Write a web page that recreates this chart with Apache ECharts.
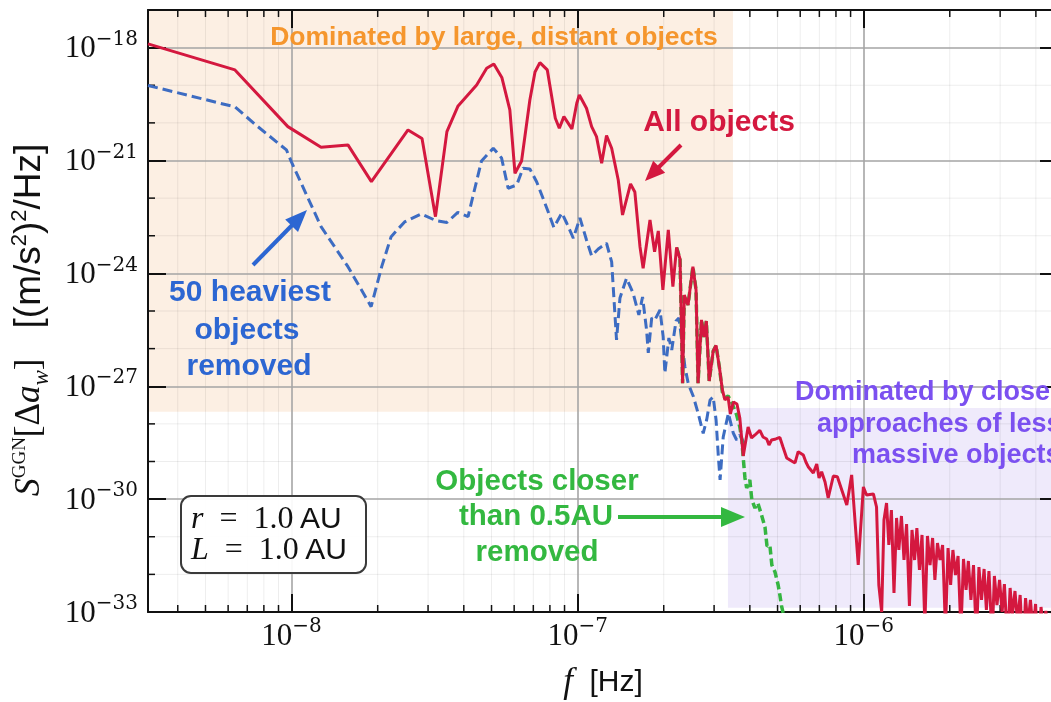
<!DOCTYPE html>
<html><head><meta charset="utf-8">
<script src="https://cdn.jsdelivr.net/npm/echarts@6/dist/echarts.min.js"></script>
<style>html,body{margin:0;padding:0;background:#fff}#c{width:1051px;height:702px}#err{position:absolute;left:400px;top:640px;font:11px monospace;color:#000;white-space:pre-wrap;width:640px;z-index:10}</style>
</head><body><div id="c"></div><div id="err"></div>
<script>
window.onerror = function (m, s, l, c) { document.getElementById('err').textContent += 'ERR ' + m + ' @' + l + ':' + c + '\n'; };
// ---- axis ranges (log10 exponents) ----
const X_MIN_EXP = -8.502, X_MAX_EXP = -5.3206;
const Y_MIN_EXP = -33, Y_MAX_EXP = -17;
// the y axis is drawn in units of 10^Y_UNIT_EXP (ECharts rounds values below 1e-20 to 0)
const Y_UNIT_EXP = -33;

// ---- "All objects" (log10 f [Hz], log10 S) ----
const redLogF = [-8.502,-8.198,-8.013,-7.897,-7.803,-7.721,-7.593,-7.544,-7.497,-7.457,-7.418,-7.353,-7.318,-7.293,-7.265,-7.237,-7.219,-7.196,-7.167,-7.149,-7.132,-7.106,-7.078,-7.064,-7.048,-7.020,-7.003,-6.994,-6.969,-6.951,-6.934,-6.916,-6.899,-6.881,-6.858,-6.843,-6.815,-6.800,-6.782,-6.771,-6.747,-6.731,-6.718,-6.702,-6.683,-6.667,-6.654,-6.642,-6.633,-6.627,-6.614,-6.597,-6.586,-6.579,-6.567,-6.558,-6.550,-6.540,-6.526,-6.516,-6.504,-6.494,-6.485,-6.474,-6.466,-6.455,-6.443,-6.433,-6.421,-6.404,-6.392,-6.380,-6.363,-6.352,-6.339,-6.331,-6.322,-6.307,-6.293,-6.282,-6.269,-6.252,-6.240,-6.229,-6.211,-6.202,-6.194,-6.176,-6.164,-6.156,-6.147,-6.135,-6.124,-6.106,-6.092,-6.073,-6.059,-6.042,-6.019,-6.001,-5.990,-5.966,-5.955,
-5.947,-5.937,-5.929,-5.920,-5.912,-5.903,-5.894,-5.885,-5.877,-5.868,-5.859,-5.850,-5.840,-5.831,-5.822,-5.814,-5.805,-5.796,-5.786,-5.777,-5.768,-5.759,-5.751,-5.742,-5.733,-5.724,-5.714,-5.705,-5.696,-5.688,-5.679,-5.670,-5.660,-5.651,-5.642,-5.634,-5.625,-5.616,-5.606,-5.597,-5.588,-5.579,-5.571,-5.562,-5.551,-5.543,-5.534,-5.525,-5.516,-5.508,-5.497,-5.488,-5.480,-5.471,-5.462,-5.453,-5.443,-5.434,-5.426,-5.417,-5.408,-5.399,-5.389,-5.380,-5.371,-5.363,-5.354,-5.345,-5.335,-5.326];
const redLogS = [-17.902,-18.593,-20.100,-20.648,-20.586,-21.562,-20.188,-20.414,-22.492,-20.233,-19.550,-18.991,-18.548,-18.433,-18.792,-19.656,-21.339,-21.012,-19.390,-18.646,-18.399,-18.593,-19.877,-20.143,-19.834,-20.161,-19.478,-19.257,-19.611,-20.100,-20.366,-21.073,-20.334,-20.674,-21.517,-22.447,-21.623,-21.836,-23.290,-23.864,-22.580,-23.423,-22.872,-24.441,-22.846,-24.353,-23.311,-23.617,-26.921,-24.574,-24.839,-23.821,-24.441,-26.921,-25.238,-25.690,-25.265,-26.860,-26.062,-25.916,-26.514,-27.099,-27.365,-27.285,-27.737,-27.418,-27.471,-27.843,-28.853,-28.082,-28.375,-28.295,-28.175,-28.348,-28.401,-28.561,-28.428,-28.401,-28.361,-28.614,-28.906,-28.986,-29.039,-28.739,-28.827,-29.013,-29.138,-29.305,-29.066,-29.438,-29.271,-29.544,-29.970,-29.385,-29.403,-29.837,-30.156,-29.358,-31.751,-29.677,-29.890,-29.863,-30.209,
-32.282,-33.000,-30.554,-30.103,-31.219,-30.289,-32.495,-30.501,-31.352,-30.448,-31.618,-30.661,-32.841,-30.820,-31.618,-30.767,-31.884,-30.953,-33.346,-30.980,-31.751,-31.033,-32.149,-31.166,-31.618,-31.219,-33.478,-31.299,-32.282,-31.352,-32.016,-31.511,-33.532,-31.591,-32.415,-31.644,-32.681,-31.751,-33.744,-31.804,-32.681,-31.857,-32.947,-31.910,-33.744,-32.043,-32.814,-32.149,-33.000,-32.256,-33.877,-32.362,-33.080,-32.442,-33.266,-32.548,-34.010,-32.628,-33.346,-32.681,-33.478,-32.787,-34.276,-32.867,-33.478,-32.973,-33.744,-33.053,-34.276,-33.133];

// ---- "50 heaviest objects removed" ----
const blueLogF = [-8.502,-8.198,-8.118,-8.018,-8.001,-7.897,-7.803,-7.722,-7.685,-7.652,-7.605,-7.547,-7.495,-7.457,-7.419,-7.383,-7.365,-7.336,-7.295,-7.266,-7.243,-7.213,-7.191,-7.167,-7.143,-7.108,-7.083,-7.055,-7.038,-7.015,-6.992,-6.969,-6.951,-6.928,-6.899,-6.881,-6.864,-6.852,-6.829,-6.806,-6.786,-6.773,-6.759,-6.753,-6.741,-6.730,-6.712,-6.701,-6.695,-6.681,-6.671,-6.656,-6.646,-6.636,-6.625,-6.613,-6.596,-6.579,-6.561,-6.549,-6.537,-6.526,-6.516,-6.508,-6.502,-6.491,-6.473,-6.456,-6.444,-6.433,-6.415];
const blueLogS = [-19.005,-19.576,-20.100,-20.719,-21.030,-22.758,-23.821,-24.885,-23.821,-23.024,-22.633,-22.420,-22.599,-22.646,-22.381,-22.492,-21.916,-21.012,-20.674,-20.932,-21.737,-21.650,-21.206,-21.224,-21.570,-22.261,-22.779,-22.394,-22.668,-23.066,-22.527,-23.112,-23.537,-23.351,-23.199,-23.696,-25.770,-24.653,-24.130,-24.528,-25.105,-24.627,-25.504,-26.115,-25.185,-25.238,-24.972,-25.682,-26.655,-25.717,-26.036,-25.265,-25.185,-25.770,-26.480,-26.939,-27.258,-27.710,-28.250,-27.896,-27.365,-27.285,-27.896,-28.872,-29.491,-28.348,-27.718,-28.242,-28.428,-28.295,-28.561];

// ---- "Objects closer than 0.5AU removed" ----
const greenLogF = [-6.654,-6.642,-6.633,-6.627,-6.614,-6.597,-6.586,-6.579,-6.567,-6.558,-6.550,-6.540,-6.526,-6.516,-6.504,-6.494,-6.485,-6.474,-6.462,-6.444,-6.433,-6.426,-6.421,-6.415,-6.409,-6.398,-6.391,-6.380,-6.370,-6.357,-6.345,-6.338,-6.328,-6.321,-6.310,-6.299,-6.293,-6.287,-6.280];
const greenLogS = [-23.311,-23.617,-26.921,-24.574,-24.839,-23.821,-24.441,-26.921,-25.238,-25.690,-25.265,-26.860,-26.062,-25.916,-26.514,-27.152,-27.312,-27.258,-27.418,-27.763,-28.082,-28.428,-28.906,-29.438,-29.704,-29.491,-30.023,-30.236,-30.103,-30.422,-30.741,-31.246,-31.219,-31.751,-31.937,-32.282,-32.548,-32.841,-33.080];

// ---- minor ticks ----
const minorTickF = [4e-9,5e-9,6e-9,7e-9,8e-9,9e-9,2e-8,3e-8,4e-8,5e-8,6e-8,7e-8,8e-8,9e-8,2e-7,3e-7,4e-7,5e-7,6e-7,7e-7,8e-7,9e-7,2e-6,3e-6,4e-6];
const minorTickLogS = [-32,-31,-29,-28,-26,-25,-23,-22,-20,-19];

// ---- shaded regions (log10 bounds) ----
const orangeBandLogF = [-8.502, -6.457], orangeBandLogS = [-27.68, -17];
const purpleBandLogF = [-6.4745, -5.3206], purpleBandLogS = [-32.89, -27.58];

const P = e => Math.pow(10, e);
const PS = e => Math.pow(10, e - Y_UNIT_EXP);   // S value in axis units
const xMin = P(X_MIN_EXP), xMax = P(X_MAX_EXP), yMin = PS(Y_MIN_EXP), yMax = PS(Y_MAX_EXP);
const toData = (lf, ls) => lf.map((x, i) => [P(x), PS(ls[i])]);

function expLabel(v, offset, step) {
  const l = Math.log10(v), r = Math.round(l);
  if (Math.abs(l - r) > 1e-6) return '';
  const e = r + offset;
  if (step && e % step !== 0) return '';
  return '{b|10}{e|' + (e < 0 ? '\u2212' : '') + Math.abs(e) + '}';
}
const labelRich = {
  b: {fontFamily: 'Liberation Serif', fontSize: 31, height: 29, lineHeight: 32, verticalAlign: 'bottom', color: '#111'},
  e: {fontFamily: 'DejaVu Serif', fontSize: 20, height: 16, lineHeight: 32, verticalAlign: 'top', color: '#111'}
};

function arrow(x1, y1, x2, y2, color, w, hl, hw) {
  const dx = x2 - x1, dy = y2 - y1, L = Math.hypot(dx, dy), ux = dx / L, uy = dy / L;
  const bx = x2 - ux * hl, by = y2 - uy * hl, px = -uy, py = ux;
  return [
    {type: 'line', z: 100, shape: {x1: x1, y1: y1, x2: bx + ux * 2, y2: by + uy * 2}, style: {stroke: color, lineWidth: w}},
    {type: 'polygon', z: 100, shape: {points: [[x2, y2], [bx + px * hw / 2, by + py * hw / 2], [bx - px * hw / 2, by - py * hw / 2]]}, style: {fill: color}}
  ];
}
function txt(x, y, s, color, size, align) {
  return {type: 'text', z: 100, x: x, y: y, style: {text: s, fill: color, font: 'bold ' + size + 'px "Liberation Sans", Arial, sans-serif', align: align || 'center', verticalAlign: 'middle', textAlign: align || 'center', textVerticalAlign: 'middle'}};
}

const ORANGE = '#f5962d', RED = '#d4183f', BLUE = '#2c66d2', GREEN = '#33b840', PURPLE = '#7b50f0';

const graphics = [].concat(
  [txt(494, 38, 'Dominated by large, distant objects', ORANGE, 26.5)],
  [txt(719, 123, 'All objects', RED, 30)],
  arrow(681, 145, 645, 181, RED, 4, 20, 17),
  [txt(250, 293, '50 heaviest', BLUE, 30), txt(247, 331, 'objects', BLUE, 30), txt(249, 367, 'removed', BLUE, 30)],
  arrow(253, 265, 307, 210, BLUE, 4, 22, 18),
  [txt(537, 482, 'Objects closer', GREEN, 29.5), txt(536, 517, 'than 0.5AU', GREEN, 29.5), txt(537, 553, 'removed', GREEN, 29.5)],
  arrow(618, 517, 745, 517, GREEN, 4, 24, 20),
  [txt(795, 393, 'Dominated by closer', PURPLE, 27, 'left'), txt(817, 425, 'approaches of less', PURPLE, 27, 'left'), txt(852, 456, 'massive objects', PURPLE, 27, 'left')],
  [{type: 'rect', z: 100, shape: {x: 181, y: 496, width: 185, height: 77, r: 10}, style: {fill: 'rgba(255,255,255,0.92)', stroke: '#3a3a3a', lineWidth: 2}},
   {type: 'text', z: 101, x: 191, y: 535, style: {
     text: '{i|r}{m|\u2002=\u20021.0\u2009}{u|AU}\n{i|L}{m|\u2002=\u20021.0\u2009}{u|AU}',
     align: 'left', verticalAlign: 'middle', textAlign: 'left', textVerticalAlign: 'middle',
     rich: {
       i: {fontFamily: 'Liberation Serif', fontStyle: 'italic', fontSize: 32, lineHeight: 31, fill: '#111', color: '#111'},
       m: {fontFamily: 'Liberation Serif', fontSize: 32, lineHeight: 31, fill: '#111', color: '#111'},
       u: {fontFamily: 'Liberation Sans', fontSize: 30, lineHeight: 31, fill: '#111', color: '#111'}
     }}}]
);

const option = {
  animation: false,
  backgroundColor: '#fff',
  grid: {left: 148, top: 10, width: 910, height: 602, containLabel: false, outerBoundsMode: 'none'},
  xAxis: [
    {type: 'log', logBase: 10, position: 'bottom', min: xMin, max: xMax, z: 3,
     axisLine: {show: true, lineStyle: {color: '#111', width: 2}},
     axisTick: {show: true, inside: true, length: 18, lineStyle: {color: '#111', width: 2}},
     axisLabel: {show: true, margin: 7, formatter: v => expLabel(v, 0), rich: labelRich},
     splitLine: {show: true, lineStyle: {color: '#a5a5a5', width: 1.6}},
     minorTick: {show: false}, minorSplitLine: {show: false},
     name: '{i|f}{u|  [Hz]}', nameLocation: 'middle', nameGap: 52,
     nameTextStyle: {rich: {
       i: {fontFamily: 'Liberation Serif', fontStyle: 'italic', fontSize: 35, lineHeight: 38, color: '#111'},
       u: {fontFamily: 'Liberation Sans', fontSize: 30, lineHeight: 38, color: '#111'}}}},
    {type: 'log', logBase: 10, position: 'top', min: xMin, max: xMax, z: 3,
     axisLine: {show: true, lineStyle: {color: '#111', width: 2}},
     axisTick: {show: true, inside: true, length: 18, lineStyle: {color: '#111', width: 2}},
     axisLabel: {show: false}, splitLine: {show: false}}
  ],
  yAxis: [
    {type: 'log', logBase: 10, position: 'left', min: yMin, max: yMax, interval: 3, z: 3,
     axisLine: {show: true, lineStyle: {color: '#111', width: 2}},
     axisTick: {show: true, inside: true, length: 18, lineStyle: {color: '#111', width: 2}},
     axisLabel: {show: true, margin: 10, formatter: v => expLabel(v, Y_UNIT_EXP, 3), rich: labelRich},
     splitLine: {show: true, lineStyle: {color: '#a5a5a5', width: 1.6}},
     minorTick: {show: false},
     name: '{s|S}{sup|GGN}{m|[\u0394}{i|a}{sub|w}{m|]}{sp|\u2003}{u|[(m/s}{us|2}{u|)}{us|2}{u|/Hz]}{tail|\u2002}',
     nameLocation: 'middle', nameRotate: 90, nameGap: 85,
     nameTextStyle: {rich: {
       s: {fontFamily: 'Liberation Serif', fontStyle: 'italic', fontSize: 36, lineHeight: 48, color: '#111'},
       sup: {fontFamily: 'Liberation Serif', fontSize: 19, height: 28, lineHeight: 48, verticalAlign: 'top', color: '#111'},
       m: {fontFamily: 'Liberation Serif', fontSize: 35, lineHeight: 48, color: '#111'},
       i: {fontFamily: 'Liberation Serif', fontStyle: 'italic', fontSize: 35, lineHeight: 48, color: '#111'},
       sub: {fontFamily: 'Liberation Serif', fontStyle: 'italic', fontSize: 23, height: 24, lineHeight: 48, verticalAlign: 'bottom', color: '#111'},
       sp: {fontSize: 30, lineHeight: 48},
       u: {fontFamily: 'Liberation Sans', fontSize: 37, lineHeight: 48, color: '#111'},
       us: {fontFamily: 'Liberation Sans', fontSize: 22, height: 28, lineHeight: 48, verticalAlign: 'top', color: '#111'},
       tail: {fontSize: 36, lineHeight: 48}}}},
    {type: 'log', logBase: 10, position: 'right', min: yMin, max: yMax, interval: 3, z: 3,
     axisLine: {show: true, lineStyle: {color: '#111', width: 2}},
     axisTick: {show: true, inside: true, length: 18, lineStyle: {color: '#111', width: 2}},
     axisLabel: {show: false}, splitLine: {show: false}}
  ],
  series: [
    {type: 'line', name: 'bands', data: [], z: -1, silent: true,
     markArea: {silent: true, data: [
       [{xAxis: P(orangeBandLogF[0]), yAxis: PS(orangeBandLogS[1]), itemStyle: {color: '#fcefe3'}}, {xAxis: P(orangeBandLogF[1]), yAxis: PS(orangeBandLogS[0])}],
       [{xAxis: P(purpleBandLogF[0]), yAxis: PS(purpleBandLogS[1]), itemStyle: {color: '#efeafb'}}, {xAxis: P(purpleBandLogF[1]), yAxis: PS(purpleBandLogS[0])}]
     ]}},
    {type: 'custom', name: 'minorX', silent: true, z: 1, clip: false,
     data: minorTickF.map(f => [f, yMin]),
     renderItem: (params, api) => {
       const f = api.value(0);
       const b = api.coord([f, yMin]), t = api.coord([f, yMax]);
       return {type: 'group', children: [
         {type: 'line', shape: {x1: b[0], y1: b[1], x2: t[0], y2: t[1]}, style: {stroke: 'rgba(0,0,0,0.07)', lineWidth: 1}},
         {type: 'line', shape: {x1: b[0], y1: b[1], x2: b[0], y2: b[1] - 7}, style: {stroke: '#111', lineWidth: 1.5}},
         {type: 'line', shape: {x1: t[0], y1: t[1], x2: t[0], y2: t[1] + 7}, style: {stroke: '#111', lineWidth: 1.5}}
       ]};
     }},
    {type: 'custom', name: 'minorY', silent: true, z: 1, clip: false,
     data: minorTickLogS.map(e => [xMin, PS(e)]),
     renderItem: (params, api) => {
       const s = api.value(1);
       const l = api.coord([xMin, s]), r = api.coord([xMax, s]);
       return {type: 'group', children: [
         {type: 'line', shape: {x1: l[0], y1: l[1], x2: r[0], y2: r[1]}, style: {stroke: 'rgba(0,0,0,0.07)', lineWidth: 1}},
         {type: 'line', shape: {x1: l[0], y1: l[1], x2: l[0] + 7, y2: l[1]}, style: {stroke: '#111', lineWidth: 1.5}}
       ]};
     }},
    {type: 'line', name: '50 heaviest objects removed', data: toData(blueLogF, blueLogS), z: 4,
     showSymbol: false, symbol: 'none', clip: true,
     lineStyle: {color: '#3d6cc2', width: 3, type: [10, 5]}},
    {type: 'line', name: 'Objects closer than 0.5AU removed', data: toData(greenLogF, greenLogS), z: 5,
     showSymbol: false, symbol: 'none', clip: true,
     lineStyle: {color: '#35b541', width: 3.5, type: [8, 4]}},
    {type: 'line', name: 'All objects', data: toData(redLogF, redLogS), z: 6,
     showSymbol: false, symbol: 'none', clip: true,
     lineStyle: {color: RED, width: 3}}
  ],
  graphic: {elements: graphics}
};
const chart = echarts.init(document.getElementById('c'));
chart.setOption(option);
try {
  const p1 = chart.convertToPixel({gridIndex: 0}, [1e-8, PS(-18)]);
  const p2 = chart.convertToPixel({gridIndex: 0}, [1e-6, PS(-30)]);
  const ok = p1 && Math.abs(p1[0] - 291.7) < 3 && Math.abs(p1[1] - 47.6) < 3 && Math.abs(p2[0] - 863.7) < 3 && Math.abs(p2[1] - 499.1) < 3;
  if (!ok) document.getElementById('err').textContent += 'DIAG ' + JSON.stringify(p1) + ' ' + JSON.stringify(p2);
} catch (e) { document.getElementById('err').textContent += 'DIAGERR ' + e.message; }
</script></body></html>
